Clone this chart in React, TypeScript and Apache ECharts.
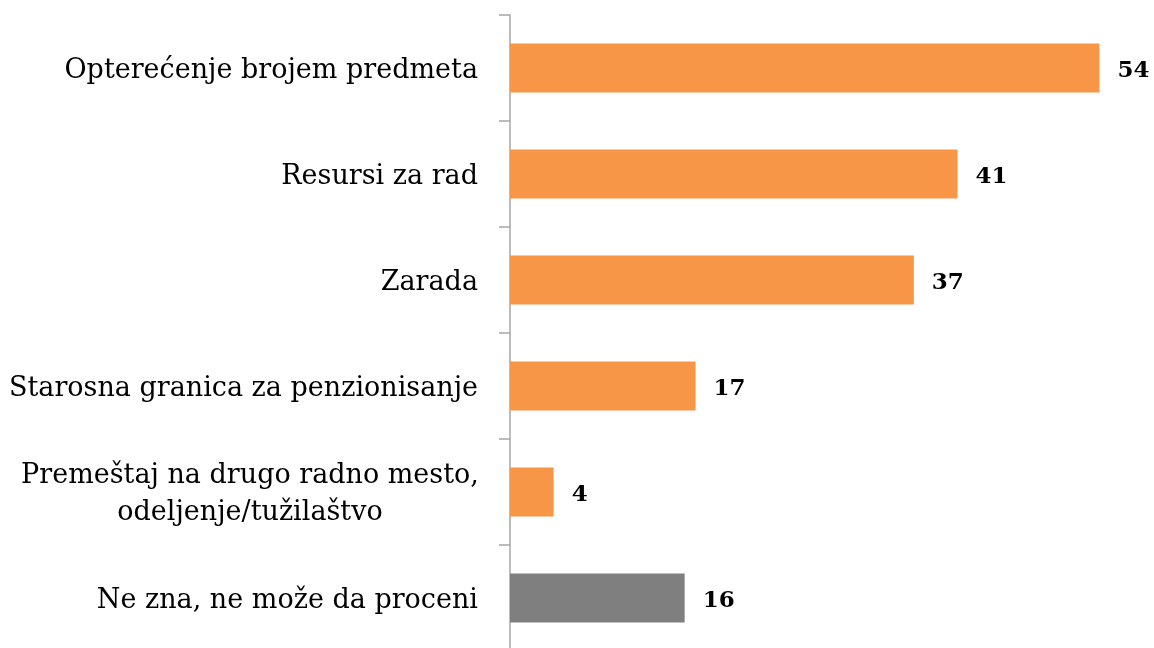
import React, { useEffect, useRef } from "react";
import * as echarts from "echarts";

const categories = [
  "Opterećenje brojem predmeta",
  "Resursi za rad",
  "Zarada",
  "Starosna granica za penzionisanje",
  "Premeštaj na drugo radno mesto,\nodeljenje/tužilaštvo",
  "Ne zna, ne može da proceni",
];
const values = [54, 41, 37, 17, 4, 16];
const barColors = ["#F79646", "#F79646", "#F79646", "#F79646", "#F79646", "#7F7F7F"];

export default function App() {
  const ref = useRef<HTMLDivElement>(null);
  useEffect(() => {
    const chart = echarts.init(ref.current!, null, { renderer: "svg" });
    chart.setOption({
      animation: false,
      grid: { left: 510, top: 15, height: 636, right: 0, containLabel: false, outerBoundsMode: "none" },
      xAxis: { type: "value", min: 0, max: 59, show: false },
      yAxis: {
        type: "category",
        inverse: true,
        data: categories.map((c) =>
          c.includes("\n")
            ? { value: c, textStyle: { align: "center", padding: [4, 456, 0, 0] } }
            : c
        ),
        axisLine: { show: true, lineStyle: { color: "#A6A6A6", width: 1.5 } },
        axisTick: { show: true, length: 11, lineStyle: { color: "#A6A6A6", width: 1.5 } },
        axisLabel: {
          margin: 32,
          color: "#000",
          fontFamily: "DejaVu Serif",
          fontSize: 27,
          lineHeight: 37,
          align: "right",
        },
        splitLine: { show: false },
      },
      series: [
        {
          type: "bar",
          data: values.map((v, i) => ({ value: v, itemStyle: { color: barColors[i] } })),
          barWidth: 49,
          label: {
            show: true,
            position: "right",
            distance: 18,
            color: "#000",
            fontFamily: "DejaVu Serif",
            fontWeight: "bold",
            fontSize: 23,
          },
        },
      ],
    });
    return () => chart.dispose();
  }, []);
  return <div ref={ref} style={{ position: "fixed", left: 0, top: 0, width: 1154, height: 648 }} />;
}
